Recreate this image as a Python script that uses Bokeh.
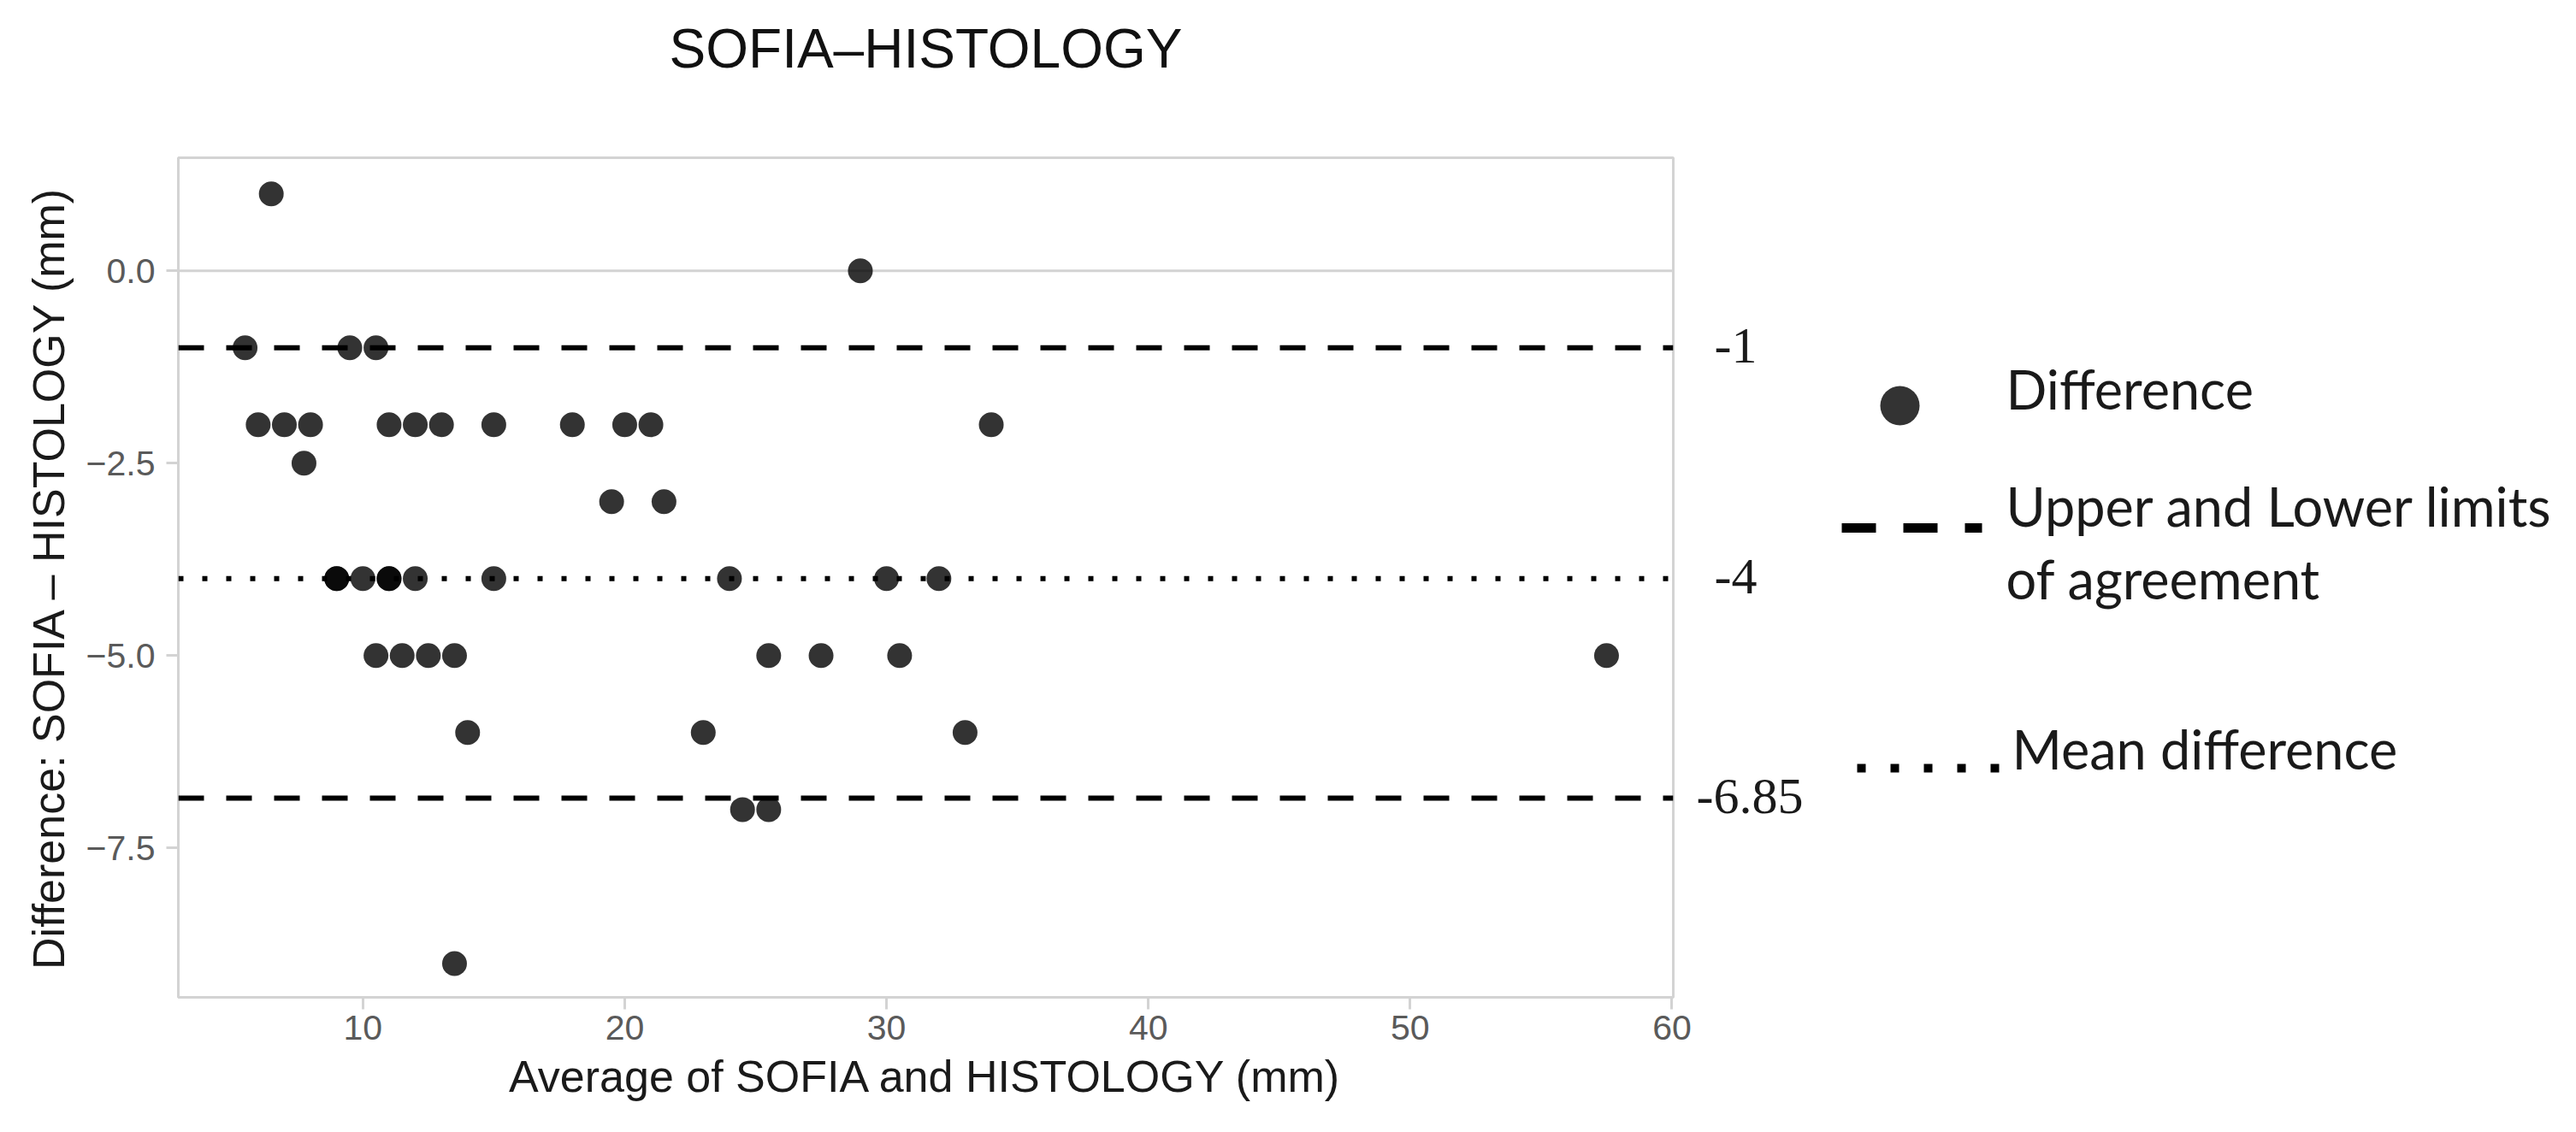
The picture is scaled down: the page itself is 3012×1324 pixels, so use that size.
from bokeh.plotting import figure
from bokeh.models import Range1d, Span, FixedTicker, CustomJSTickFormatter
from bokeh.layouts import row, column
from bokeh.embed import file_html
from bokeh.resources import INLINE
from bokeh.core.properties import value

# ---------------- data ----------------
title_text = "SOFIA\u2013HISTOLOGY"
x_label = "Average of SOFIA and HISTOLOGY (mm)"
y_label = "Difference: SOFIA \u2013 HISTOLOGY (mm)"

avg = [6.5, 29,
       5.5, 9.5, 10.5,
       6, 7, 8, 11, 12, 13, 15, 18, 20, 21, 34,
       7.75,
       19.5, 21.5,
       9, 9, 10, 11, 11, 12, 15, 24, 30, 32,
       10.5, 11.5, 12.5, 13.5, 25.5, 27.5, 30.5, 57.5,
       14, 23, 33,
       24.5, 25.5,
       13.5]
diff = [1, 0,
        -1, -1, -1,
        -2, -2, -2, -2, -2, -2, -2, -2, -2, -2, -2,
        -2.5,
        -3, -3,
        -4, -4, -4, -4, -4, -4, -4, -4, -4, -4,
        -5, -5, -5, -5, -5, -5, -5, -5,
        -6, -6, -6,
        -7, -7,
        -9]

upper_limit = -1
mean_diff = -4
lower_limit = -6.85
line_labels = ["-1", "-4", "-6.85"]

x_ticks = [10, 20, 30, 40, 50, 60]
y_ticks = [-7.5, -5.0, -2.5, 0.0]

legend_labels = ["Difference", "Upper and Lower limits", "of agreement", "Mean difference"]

# ---------------- layout constants ----------------
TITLE_H = 180
H = 1316 - TITLE_H
TOP, BOTTOM = 4, 150
LEFT = 208
FRAME_W = 1748
RIGHT = 24
FRAME_H = H - TOP - BOTTOM
MAIN_W = LEFT + FRAME_W + RIGHT
SIDE_W = 3004 - MAIN_W

SANS = "Liberation Sans"

p = figure(width=MAIN_W, height=H, output_backend="svg", toolbar_location=None,
           x_range=Range1d(2.95, 60.05), y_range=Range1d(-9.44, 1.47),
           min_border_left=LEFT, min_border_right=RIGHT,
           min_border_top=TOP, min_border_bottom=BOTTOM)
p.background_fill_color = "white"
p.border_fill_color = "white"
p.outline_line_color = "#d3d3d3"
p.outline_line_width = 3
p.grid.visible = False

for ax in (p.xaxis[0], p.yaxis[0]):
    ax.axis_line_color = None
    ax.major_tick_line_color = "#d3d3d3"
    ax.major_tick_line_width = 3
    ax.major_tick_out = 14
    ax.major_tick_in = 0
    ax.minor_tick_line_color = None
    ax.major_label_text_font = SANS
    ax.major_label_text_font_size = "41px"
    ax.major_label_text_color = "#5a5a5a"
    ax.axis_label_text_font = SANS
    ax.axis_label_text_font_size = "52px"
    ax.axis_label_text_font_style = "normal"
    ax.axis_label_text_color = "#1a1a1a"

p.xaxis[0].ticker = FixedTicker(ticks=x_ticks)
p.yaxis[0].ticker = FixedTicker(ticks=y_ticks)
p.yaxis[0].formatter = CustomJSTickFormatter(code="return tick.toFixed(1).replace('-', '\\u2212');")
p.xaxis[0].axis_label = x_label
p.yaxis[0].axis_label = y_label
p.xaxis[0].major_label_standoff = 7
p.xaxis[0].axis_label_standoff = 11
p.yaxis[0].major_label_standoff = 13
p.yaxis[0].axis_label_standoff = 12

# zero line
p.add_layout(Span(location=0, dimension="width", line_color="#d3d3d3", line_width=3, level="underlay"))
# limits of agreement and mean
for loc in (upper_limit, lower_limit):
    p.add_layout(Span(location=loc, dimension="width", line_color="black", line_width=6,
                      line_dash="30 26", level="underlay"))
p.add_layout(Span(location=mean_diff, dimension="width", line_color="black", line_width=6,
                  line_dash="6 22", level="underlay"))

p.scatter(avg, diff, size=29, marker="circle", fill_color="black", fill_alpha=0.8, line_color=None)

# ---------------- title strip (frame aligned with the plot) ----------------
pt = figure(width=MAIN_W, height=TITLE_H, output_backend="svg", toolbar_location=None,
            x_range=p.x_range, y_range=Range1d(0, TITLE_H),
            x_axis_location=None, y_axis_location=None,
            min_border_left=LEFT, min_border_right=RIGHT, min_border_top=0, min_border_bottom=0)
pt.outline_line_color = None
pt.grid.visible = False
x_mid = (p.x_range.start + p.x_range.end) / 2
pt.text(x=[x_mid], y=[TITLE_H - 56], text=[title_text], text_align="center",
        text_baseline="middle", text_font=value(SANS), text_font_size="64px",
        text_color="#111111")

# ---------------- side panel (line labels + legend) ----------------
p2 = figure(width=SIDE_W, height=H, output_backend="svg", toolbar_location=None,
            x_range=Range1d(0, SIDE_W), y_range=p.y_range,
            x_axis_location=None, y_axis_location=None,
            min_border_left=0, min_border_right=0,
            min_border_top=TOP, min_border_bottom=BOTTOM)
p2.outline_line_color = None
p2.grid.visible = False
p2.extra_y_ranges = {"px": Range1d(FRAME_H, 0)}

vals = [upper_limit, mean_diff, lower_limit]
lab_x = [3 if len(s) > 3 else 24 for s in line_labels]
p2.text(x=lab_x, y=vals, text=line_labels, text_font=value("Liberation Serif"),
        text_font_size="60px", text_baseline="alphabetic", text_align="left",
        text_color="#1a1a1a", y_offset=-2)

# legend keys
p2.scatter([241], [290], size=46, fill_color="black", fill_alpha=0.8, line_color=None,
           y_range_name="px")
p2.segment(x0=[173], y0=[433], x1=[337], y1=[433], line_color="black", line_width=11,
           line_dash="40 32", y_range_name="px")
p2.segment(x0=[191], y0=[714], x1=[360], y1=[714], line_color="black", line_width=10,
           line_dash="10 29", y_range_name="px")
p2.text(x=[365, 365, 365, 372], y=[270, 407, 492, 691], text=legend_labels,
        text_font=value("Lato"), text_font_size="63px", text_baseline="alphabetic",
        text_align="left", text_color="#1a1a1a", y_range_name="px")

layout = column(pt, row(p, p2))
open("out.html", "w").write(file_html(layout, INLINE))
